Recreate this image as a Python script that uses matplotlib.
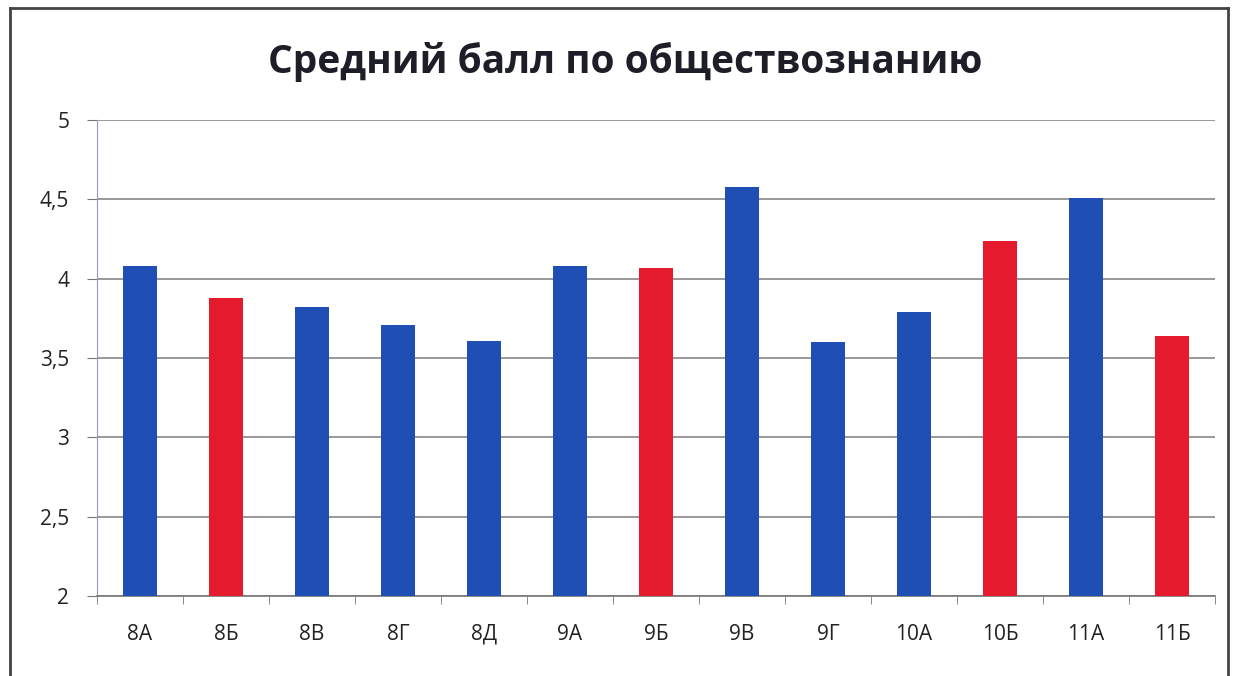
import matplotlib
matplotlib.use("Agg")
import matplotlib.pyplot as plt
from matplotlib.lines import Line2D
import numpy as np

categories = ["8А", "8Б", "8В", "8Г", "8Д", "9А", "9Б", "9В", "9Г", "10А", "10Б", "11А", "11Б"]
values = [4.08, 3.88, 3.82, 3.71, 3.61, 4.08, 4.07, 4.58, 3.60, 3.79, 4.24, 4.51, 3.64]
is_red = [False, True, False, False, False, False, True, False, False, False, True, False, True]
yticks = [2, 2.5, 3, 3.5, 4, 4.5, 5]
ytick_labels = ["2", "2,5", "3", "3,5", "4", "4,5", "5"]
title = "Средний балл по обществознанию"

BLUE = "#1f4fb4"
RED = "#e51a2c"

plt.rcParams['font.family'] = ['Open Sans', 'DejaVu Sans']

fig = plt.figure(figsize=(12.35, 6.76), dpi=100)
ax = fig.add_axes([97/1235, 80/676, (1215-97)/1235, (596-120)/676])

x = np.arange(len(categories))
colors = [RED if r else BLUE for r in is_red]
ax.bar(x, [v - 2 for v in values], bottom=2, width=0.4, color=colors, zorder=3)

ax.set_xlim(-0.5, len(categories) - 0.5)
ax.set_ylim(2, 5)
ax.set_yticks(yticks)
ax.set_yticklabels(ytick_labels, fontsize=15, color="#222222")
ax.set_xticks(x)
ax.set_xticklabels(categories, fontsize=15, color="#222222")
ax.tick_params(axis='x', length=0, pad=20)
ax.tick_params(axis='y', length=7, color="#777777", pad=13)
ax.set_xticks(np.arange(-0.5, len(categories), 1), minor=True)
ax.tick_params(axis='x', which='minor', length=6, color="#777777", direction='out')

ax.grid(axis='y', color="#888888", linewidth=1.2, zorder=0)
for s in ["top", "right"]:
    ax.spines[s].set_visible(False)
ax.spines["left"].set_color("#9a9ab8")
ax.spines["bottom"].set_color("#777777")
ax.spines["bottom"].set_linewidth(1.2)

fig.text(625/1235, 1 - 62/676, title, ha="center", va="center", fontsize=28,
         fontweight="bold", color="#1e1e28")

# outer chart border
bc = "#444444"
fig.add_artist(Line2D([10/1235, 10/1235], [0, 1 - 8/676], transform=fig.transFigure, color=bc, lw=2))
fig.add_artist(Line2D([10/1235, 1228/1235], [1 - 8/676, 1 - 8/676], transform=fig.transFigure, color=bc, lw=2))
fig.add_artist(Line2D([1228/1235, 1228/1235], [0, 1 - 8/676], transform=fig.transFigure, color=bc, lw=2))

fig.savefig("out.png", dpi=100)
